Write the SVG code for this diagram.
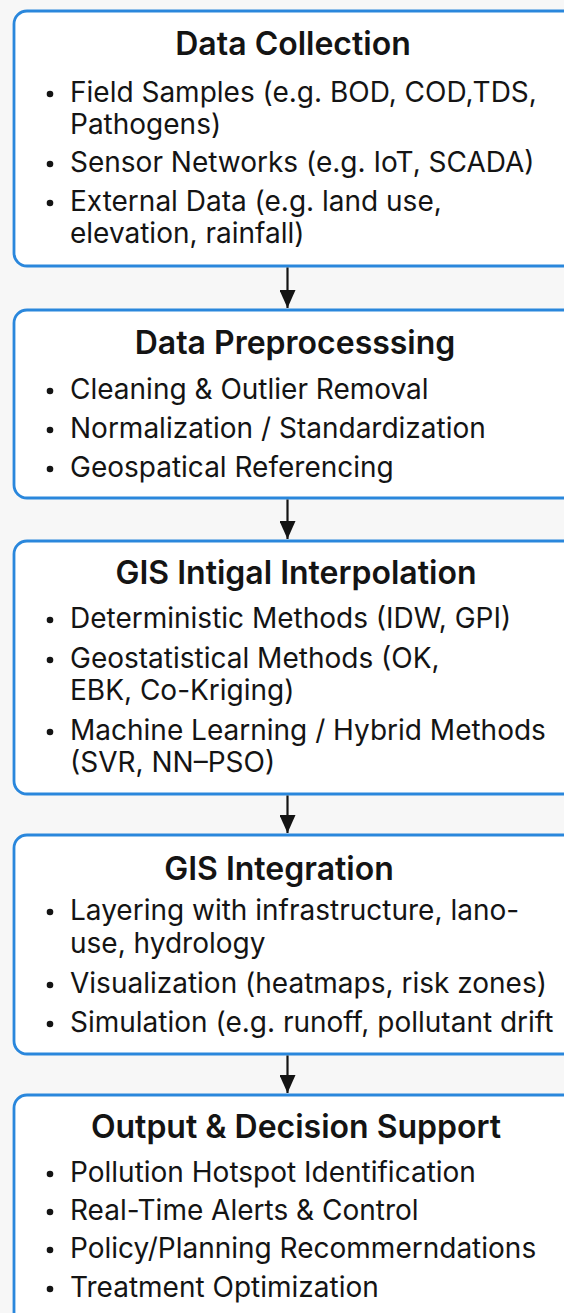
<svg xmlns="http://www.w3.org/2000/svg" width="564" height="1313" viewBox="0 0 564 1313">
  <style>
    .box { fill: #ffffff; stroke: #2a87dc; stroke-width: 2.8; }
    .title { font-family: Inter, "Noto Sans", "DejaVu Sans", sans-serif; font-size: 32px; font-weight: 600; fill: #141414; text-anchor: middle; }
    .item { font-family: Inter, "Noto Sans", "DejaVu Sans", sans-serif; font-size: 28px; font-weight: 400; fill: #141414; }
    .dot { fill: #141414; }
    .conn line { stroke: #141414; stroke-width: 2.2; }
  </style>
  <defs>
    <marker id="arrow" viewBox="0 0 18 16" refX="18" refY="8" markerWidth="18" markerHeight="16" markerUnits="userSpaceOnUse" orient="auto">
      <path d="M0,0 L18,8 L0,16 Z" fill="#141414"/>
    </marker>
  </defs>
  <rect x="0" y="0" width="564" height="1313" fill="#f7f7f7"/>

  <!-- Stage 1 -->
  <g id="data-collection">
    <rect class="box" x="14" y="11" width="570" height="255" rx="13"/>
    <text class="title" x="293" y="55">Data Collection</text>
    <circle class="dot" cx="50" cy="94" r="3.3"/>
    <text class="item" x="70" y="102">Field Samples (e.g. BOD, COD,TDS,</text>
    <text class="item" x="70" y="134">Pathogens)</text>
    <circle class="dot" cx="50" cy="164" r="3.3"/>
    <text class="item" x="70" y="172">Sensor Networks (e.g. IoT, SCADA)</text>
    <circle class="dot" cx="50" cy="203" r="3.3"/>
    <text class="item" x="70" y="211">External Data (e.g. land use,</text>
    <text class="item" x="70" y="243">elevation, rainfall)</text>
  </g>

  <!-- Stage 2 -->
  <g id="data-preprocessing">
    <rect class="box" x="14" y="310" width="570" height="188" rx="13"/>
    <text class="title" x="295" y="354">Data Preprocesssing</text>
    <circle class="dot" cx="50" cy="391" r="3.3"/>
    <text class="item" x="70" y="399">Cleaning &amp; Outlier Removal</text>
    <circle class="dot" cx="50" cy="430" r="3.3"/>
    <text class="item" x="70" y="438">Normalization / Standardization</text>
    <circle class="dot" cx="50" cy="469" r="3.3"/>
    <text class="item" x="70" y="477">Geospatical Referencing</text>
  </g>

  <!-- Stage 3 -->
  <g id="interpolation">
    <rect class="box" x="14" y="541" width="570" height="253" rx="13"/>
    <text class="title" x="296" y="584">GIS Intigal Interpolation</text>
    <circle class="dot" cx="50" cy="620" r="3.3"/>
    <text class="item" x="70" y="628">Deterministic Methods (IDW, GPI)</text>
    <circle class="dot" cx="50" cy="660" r="3.3"/>
    <text class="item" x="70" y="668">Geostatistical Methods (OK,</text>
    <text class="item" x="70" y="700">EBK, Co-Kriging)</text>
    <circle class="dot" cx="50" cy="732" r="3.3"/>
    <text class="item" x="70" y="740">Machine Learning / Hybrid Methods</text>
    <text class="item" x="70" y="772">(SVR, NN–PSO)</text>
  </g>

  <!-- Stage 4 -->
  <g id="gis-integration">
    <rect class="box" x="14" y="835" width="570" height="219" rx="13"/>
    <text class="title" x="279" y="880">GIS Integration</text>
    <circle class="dot" cx="50" cy="912" r="3.3"/>
    <text class="item" x="70" y="920">Layering with infrastructure,<tspan dx="8">lano-</tspan></text>
    <text class="item" x="70" y="953">use, hydrology</text>
    <circle class="dot" cx="50" cy="985" r="3.3"/>
    <text class="item" x="70" y="993">Visualization (heatmaps, risk zones)</text>
    <circle class="dot" cx="50" cy="1024" r="3.3"/>
    <text class="item" x="70" y="1032">Simulation (e.g. runoff, pollutant drift</text>
  </g>

  <!-- Stage 5 -->
  <g id="output-decision">
    <rect class="box" x="14" y="1095" width="570" height="240" rx="13"/>
    <text class="title" x="296" y="1138">Output &amp; Decision Support</text>
    <circle class="dot" cx="50" cy="1174" r="3.3"/>
    <text class="item" x="70" y="1182">Pollution Hotspot Identification</text>
    <circle class="dot" cx="50" cy="1212" r="3.3"/>
    <text class="item" x="70" y="1220">Real-Time Alerts &amp; Control</text>
    <circle class="dot" cx="50" cy="1250" r="3.3"/>
    <text class="item" x="70" y="1258">Policy/Planning Recommerndations</text>
    <circle class="dot" cx="50" cy="1289" r="3.3"/>
    <text class="item" x="70" y="1297">Treatment Optimization</text>
  </g>

  <!-- Flow arrows between stages -->
  <g id="connectors" class="conn">
    <line x1="287.5" y1="267.5" x2="287.5" y2="308" marker-end="url(#arrow)"/>
    <line x1="287.5" y1="499.5" x2="287.5" y2="539" marker-end="url(#arrow)"/>
    <line x1="287.5" y1="795.5" x2="287.5" y2="833" marker-end="url(#arrow)"/>
    <line x1="287.5" y1="1055.5" x2="287.5" y2="1093" marker-end="url(#arrow)"/>
  </g>
</svg>
